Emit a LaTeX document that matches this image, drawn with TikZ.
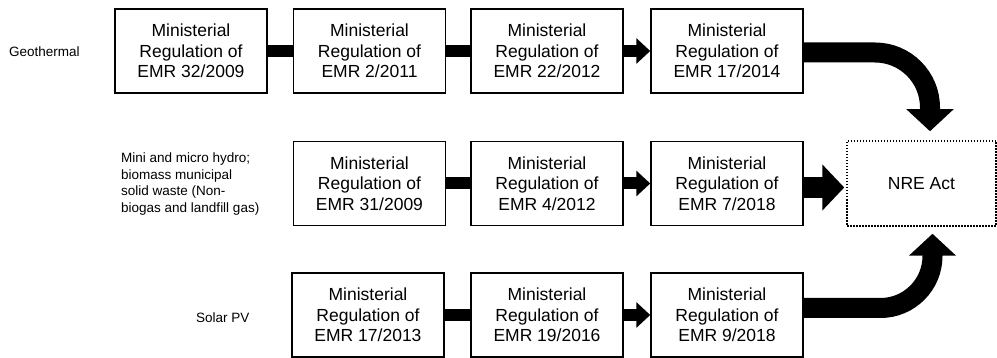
\documentclass[tikz,border=0pt]{standalone}
\usepackage{fontspec}
\setmainfont{Liberation Sans}
\usetikzlibrary{arrows.meta,calc}
\begin{document}
\begin{tikzpicture}[x=1pt,y=-1pt,
  regbox/.style={draw,line width=1.5pt,minimum width=152pt,minimum height=84pt,inner sep=0pt,align=center,font=\fontsize{17.5}{20.5}\selectfont},
  srclabel/.style={anchor=west,inner sep=0pt,align=left,font=\fontsize{13.5}{16.4}\selectfont},
  bar/.style={line width=12pt},
  smallarrow/.style={line width=12pt,-{Triangle[length=14pt,width=25pt]}},
  bigarrow/.style={line width=20pt,-{Triangle[length=22pt,width=46pt]}}]
\useasboundingbox (0,0) rectangle (997,358);
% labels
\node[srclabel] (lgeo) at (9,52) {Geothermal};
\node[srclabel] (lhyd) at (121,184) {Mini and micro hydro;\\biomass municipal\\solid waste (Non-\\biogas and landfill gas)};
\node[srclabel] (lsol) at (196,318) {Solar PV};
% row 1
\node[regbox] (g1) at (191,51) {Ministerial\\Regulation of\\EMR 32/2009};
\node[regbox] (g2) at (369.5,51) {Ministerial\\Regulation of\\EMR 2/2011};
\node[regbox] (g3) at (547,51) {Ministerial\\Regulation of\\EMR 22/2012};
\node[regbox] (g4) at (727,51) {Ministerial\\Regulation of\\EMR 17/2014};
% row 2
\node[regbox] (h1) at (369.5,183.5) {Ministerial\\Regulation of\\EMR 31/2009};
\node[regbox] (h2) at (547,183.5) {Ministerial\\Regulation of\\EMR 4/2012};
\node[regbox] (h3) at (727,183.5) {Ministerial\\Regulation of\\EMR 7/2018};
\node[draw,line width=1.5pt,dash pattern=on 1.5pt off 1.5pt,minimum width=149pt,minimum height=85pt,inner sep=0pt,font=\fontsize{17.5}{20.5}\selectfont] (nre) at (921.5,183.5) {NRE Act};
% row 3
\node[regbox] (s1) at (368,315) {Ministerial\\Regulation of\\EMR 17/2013};
\node[regbox] (s2) at (547,315) {Ministerial\\Regulation of\\EMR 19/2016};
\node[regbox] (s3) at (727,315) {Ministerial\\Regulation of\\EMR 9/2018};
% connectors row 1
\draw[bar] (g1.east) -- (g2.west);
\draw[bar] (g2.east) -- (g3.west);
\draw[smallarrow] (g3.east) -- (g4.west);
\coordinate (topend) at ($(nre.north)+(8.5,-9)$);
\draw[bigarrow,rounded corners=55pt] ($(g4.east)+(0,1.5)$) -| (topend);
% connectors row 2
\draw[bar] (h1.east) -- (h2.west);
\draw[smallarrow] (h2.east) -- (h3.west);
\draw[bigarrow,line width=21pt,-{Triangle[length=22pt,width=45pt]}] ($(h3.east)+(0,4)$) -- ($(nre.west)+(-2,4)$);
% connectors row 3
\draw[bar] (s1.east) -- (s2.west);
\draw[smallarrow] (s2.east) -- (s3.west);
\coordinate (botend) at ($(nre.south)+(11,7)$);
\draw[bigarrow,rounded corners=52pt] ($(s3.east)+(0,-7)$) -| (botend);
\end{tikzpicture}
\end{document}
